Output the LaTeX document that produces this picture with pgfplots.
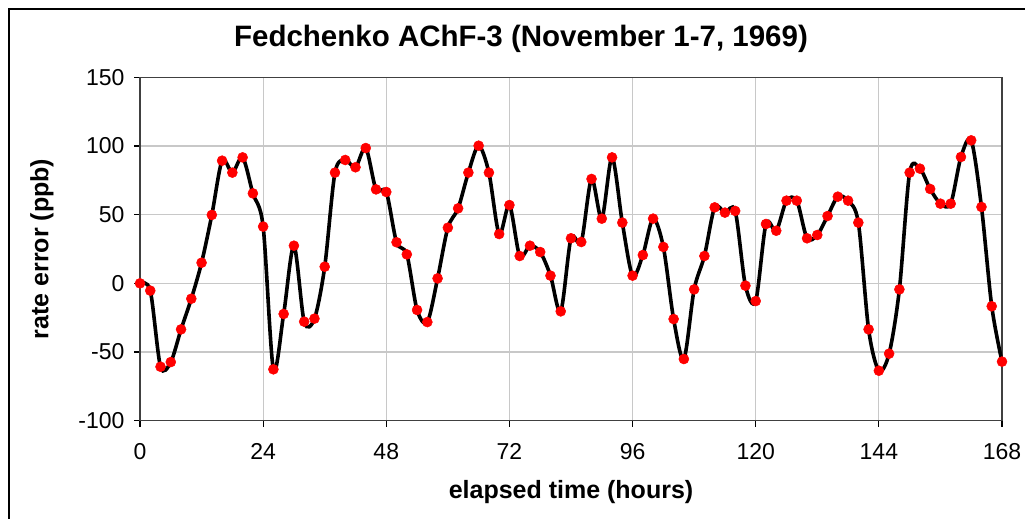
\documentclass[border=0pt]{standalone}
\usepackage{pgfplots}
\pgfplotsset{compat=1.18}
\usepackage{pgfplotstable}
\usepackage{fontspec}
\setmainfont{Liberation Sans}
\definecolor{gridgray}{RGB}{200,200,200}
\definecolor{boxgray}{RGB}{64,64,64}
\pgfplotstableread{
t y
0 0
2 -5.3
4 -60.7
6 -57.3
8 -33.5
10 -11.2
12 15.0
14 49.8
16 89.3
18 80.6
20 91.7
22 65.5
24 41.3
26 -62.6
28 -22.3
30 27.4
32 -27.9
34 -25.7
36 12.1
38 80.6
40 89.8
42 84.5
44 98.5
46 68.4
48 66.5
50 29.9
52 21.1
54 -19.4
56 -28.2
58 3.6
60 40.5
62 54.6
64 80.6
66 100.2
68 80.6
70 35.9
72 57.0
74 19.9
76 27.4
78 22.8
80 5.6
82 -20.4
84 32.8
86 30.1
88 76.0
90 47.1
92 91.7
94 44.2
96 5.6
98 20.6
100 47.1
102 26.5
104 -26.0
106 -55.1
108 -4.4
110 19.9
112 55.3
114 51.5
116 52.7
118 -1.7
120 -12.9
122 43.2
124 38.3
126 60.2
128 60.2
130 32.8
132 35.2
134 49.0
136 63.1
138 60.2
140 44.2
142 -33.5
144 -63.6
146 -51.2
148 -4.4
150 80.6
152 83.5
154 68.7
156 58.0
158 58.0
160 92.0
162 104.1
164 55.6
166 -16.7
168 -57.0
}\datatable
\begin{document}
\begin{tikzpicture}
\useasboundingbox (-140pt,-98.3pt) rectangle (885pt,420.7pt);
\fill[white] (-140pt,-98.3pt) rectangle (885pt,420.7pt);
\draw[line width=2.5pt, black] (-131pt,-100pt) -- (-131pt,411.7pt) -- (890pt,411.7pt);
\begin{axis}[
  at={(0pt,0pt)}, anchor=south west,
  scale only axis, width=862pt, height=343.4pt,
  xmin=0, xmax=168, ymin=-100, ymax=150,
  xtick={0,24,...,168}, ytick={-100,-50,...,150},
  grid=major, major grid style={gridgray, line width=1.2pt},
  axis line style={boxgray, line width=1.2pt},
  tick style={black, line width=1.2pt},
  tick align=outside, major tick length=6pt,
  xtick pos=bottom, ytick pos=left,
  /pgf/number format/assume math mode=true,
  ticklabel style={font=\fontsize{23}{26}\selectfont},
  xticklabel style={yshift=-13pt},
  yticklabel style={xshift=-6pt},
  title={Fedchenko AChF-3 (November 1-7, 1969)},
  title style={font=\bfseries\fontsize{29.5}{34}\selectfont, at={(axis description cs:0.442,1.094)}, anchor=center},
  xlabel={elapsed time (hours)},
  xlabel style={font=\bfseries\fontsize{25}{29}\selectfont, at={(axis description cs:0.5,-0.2076)}, anchor=center},
  ylabel={rate error (ppb)},
  ylabel style={font=\bfseries\fontsize{25}{29}\selectfont, at={(axis description cs:-0.1137,0.5)}, anchor=center, rotate=0},
  clip=false,
]
\addplot[black, line width=3.6pt, smooth, tension=0.5, mark=*, mark size=5pt,
  mark options={fill=red, draw=red, line width=0.5pt}] table[x=t,y=y] {\datatable};
\end{axis}
\end{tikzpicture}
\end{document}
